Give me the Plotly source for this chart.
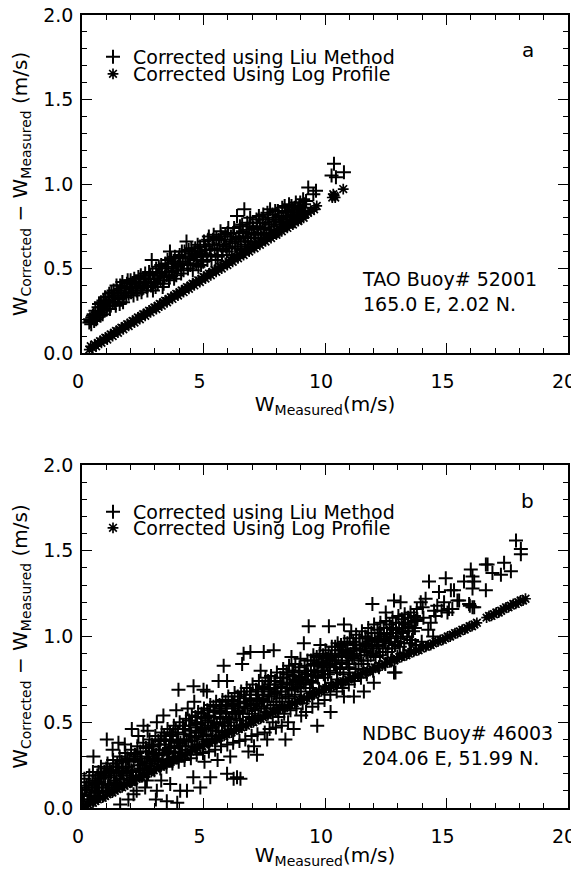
import plotly.graph_objects as go

# ---------------- data ----------------
# Panel a : TAO Buoy 52001  (W_measured, W_corrected - W_measured)
liu_a = [
(0.30,0.18),(0.33,0.20),(0.38,0.17),(0.45,0.22),(0.50,0.19),(0.55,0.25),(0.62,0.21),(0.68,0.27),(0.72,0.24),(0.78,0.30),
(0.85,0.23),(0.90,0.28),(0.95,0.33),(1.02,0.26),(1.08,0.31),(1.12,0.35),(1.18,0.28),(1.25,0.33),(1.30,0.37),(1.36,0.30),
(1.42,0.40),(1.48,0.34),(1.55,0.29),(1.60,0.38),(1.66,0.42),(1.72,0.33),(1.80,0.36),(1.85,0.41),(1.92,0.35),(2.00,0.43),
(2.05,0.38),(2.12,0.34),(2.18,0.42),(2.25,0.37),(2.32,0.45),(2.40,0.40),(2.45,0.36),(2.52,0.44),(2.60,0.47),(2.66,0.39),
(2.72,0.42),(2.80,0.46),(2.87,0.55),(2.92,0.37),(3.00,0.44),(3.05,0.50),(3.12,0.41),(3.20,0.47),(3.26,0.52),(3.32,0.39),
(3.40,0.45),(3.46,0.50),(3.52,0.55),(3.58,0.43),(3.62,0.60),(3.70,0.48),(3.76,0.53),(3.82,0.57),(3.88,0.46),(3.95,0.51),
(4.02,0.58),(4.08,0.47),(4.15,0.54),(4.22,0.60),(4.30,0.66),(4.36,0.50),(4.42,0.56),(4.50,0.62),(4.56,0.49),(4.62,0.58),
(4.70,0.53),(4.76,0.64),(4.82,0.60),(4.90,0.52),(4.96,0.57),(5.02,0.66),(5.10,0.61),(5.16,0.55),(5.22,0.69),(5.30,0.58),
(5.36,0.64),(5.42,0.70),(5.50,0.55),(5.56,0.61),(5.62,0.67),(5.70,0.72),(5.76,0.58),(5.82,0.64),(5.90,0.70),(5.96,0.60),
(6.02,0.74),(6.10,0.66),(6.16,0.58),(6.22,0.71),(6.30,0.63),(6.38,0.81),(6.44,0.68),(6.50,0.75),(6.56,0.61),(6.62,0.72),
(6.68,0.85),(6.74,0.66),(6.80,0.77),(6.86,0.63),(6.92,0.80),(6.98,0.70),(7.05,0.74),(7.12,0.66),(7.18,0.79),(7.25,0.71),
(7.32,0.77),(7.40,0.68),(7.46,0.82),(7.52,0.74),(7.60,0.70),(7.66,0.80),(7.74,0.85),(7.80,0.73),(7.88,0.78),(7.95,0.84),
(8.02,0.72),(8.10,0.81),(8.16,0.76),(8.24,0.86),(8.30,0.79),(8.38,0.83),(8.45,0.76),(8.52,0.88),(8.58,0.81),(8.66,0.85),
(8.72,0.78),(8.80,0.89),(8.86,0.83),(8.94,0.87),(9.02,0.80),(9.10,0.91),(9.18,0.86),(9.31,0.98),(9.52,0.94),(9.63,0.96),
(10.27,1.05),(10.37,1.12),(10.45,1.04),(10.78,1.07),
(0.35,0.19),(0.42,0.21),(0.48,0.23),(0.58,0.20),(0.65,0.24),(0.70,0.29),(0.76,0.22),(0.82,0.27),(0.88,0.31),(0.93,0.25),
(0.99,0.30),(1.05,0.28),(1.10,0.33),(1.15,0.26),(1.21,0.36),(1.27,0.30),(1.33,0.34),(1.39,0.28),(1.45,0.37),(1.51,0.32),
(1.57,0.40),(1.63,0.35),(1.69,0.30),(1.75,0.39),(1.82,0.33),(1.88,0.43),(1.95,0.39),(2.02,0.36),(2.08,0.41),(2.15,0.44),
(2.21,0.39),(2.28,0.35),(2.35,0.42),(2.42,0.46),(2.48,0.38),(2.55,0.41),(2.63,0.44),(2.69,0.37),(2.76,0.48),(2.84,0.40),
(2.90,0.47),(2.96,0.42),(3.03,0.39),(3.09,0.46),(3.16,0.51),(3.23,0.43),(3.29,0.48),(3.36,0.41),(3.43,0.53),(3.49,0.46),
(3.55,0.51),(3.61,0.45),(3.67,0.56),(3.73,0.50),(3.79,0.44),(3.85,0.54),(3.91,0.49),(3.98,0.56),(4.05,0.52),(4.11,0.60),
(4.18,0.49),(4.25,0.57),(4.33,0.53),(4.39,0.61),(4.46,0.52),(4.53,0.59),(4.59,0.55),(4.66,0.62),(4.73,0.57),(4.79,0.51),
(4.86,0.63),(4.93,0.59),(4.99,0.54),(5.06,0.63),(5.13,0.58),(5.19,0.67),(5.26,0.61),(5.33,0.55),(5.39,0.67),(5.46,0.62),
(5.53,0.68),(5.59,0.57),(5.66,0.64),(5.73,0.69),(5.79,0.61),(5.86,0.67),(5.93,0.63),(5.99,0.71),(6.06,0.62),(6.13,0.69),
(6.19,0.65),(6.26,0.74),(6.33,0.67),(6.41,0.62),(6.47,0.71),(6.53,0.66),(6.59,0.76),(6.65,0.69),(6.71,0.64),(6.77,0.73),
(6.83,0.68),(6.89,0.75),(6.95,0.66),(7.02,0.77),(7.08,0.71),(7.15,0.68),(7.21,0.75),(7.28,0.81),(7.35,0.73),(7.43,0.79),
(7.49,0.70),(7.56,0.77),(7.63,0.83),(7.70,0.76),(7.77,0.71),(7.84,0.82),(7.91,0.75),(7.98,0.79),(8.06,0.84),(8.13,0.73),
(8.20,0.80),(8.27,0.77),(8.34,0.87),(8.41,0.80),(8.48,0.84),(8.55,0.78),(8.62,0.87),(8.69,0.82),(8.76,0.86),(8.83,0.80),
(8.90,0.85),(8.98,0.89),(9.06,0.84),(9.14,0.88),(9.22,0.90)]

log_a = [
(0.30,0.02),(0.36,0.04),(0.44,0.03),(0.52,0.05),(0.58,0.04),(0.66,0.06),(0.74,0.07),(0.80,0.06),(0.88,0.08),(0.96,0.09),
(1.04,0.08),(1.10,0.10),(1.18,0.11),(1.26,0.10),(1.32,0.12),(1.40,0.13),(1.48,0.12),(1.55,0.14),(1.62,0.15),(1.70,0.14),
(1.78,0.16),(1.86,0.17),(1.92,0.16),(2.00,0.18),(2.08,0.19),(2.16,0.18),(2.22,0.20),(2.30,0.21),(2.38,0.20),(2.45,0.22),
(2.52,0.23),(2.60,0.22),(2.68,0.24),(2.76,0.25),(2.82,0.24),(2.90,0.26),(2.98,0.27),(3.06,0.26),(3.12,0.28),(3.20,0.29),
(3.28,0.28),(3.35,0.30),(3.42,0.31),(3.50,0.30),(3.58,0.32),(3.66,0.33),(3.72,0.32),(3.80,0.34),(3.88,0.35),(3.95,0.34),
(4.02,0.36),(4.10,0.37),(4.18,0.36),(4.25,0.38),(4.32,0.39),(4.40,0.38),(4.48,0.40),(4.55,0.41),(4.62,0.40),(4.70,0.42),
(4.78,0.43),(4.85,0.42),(4.92,0.44),(5.00,0.45),(5.08,0.44),(5.15,0.46),(5.22,0.47),(5.30,0.46),(5.38,0.48),(5.45,0.49),
(5.52,0.48),(5.60,0.50),(5.68,0.51),(5.75,0.50),(5.82,0.52),(5.90,0.53),(5.98,0.52),(6.05,0.54),(6.12,0.55),(6.20,0.54),
(6.28,0.56),(6.35,0.57),(6.42,0.56),(6.50,0.58),(6.58,0.59),(6.65,0.58),(6.72,0.60),(6.80,0.61),(6.88,0.60),(6.95,0.62),
(7.02,0.63),(7.10,0.62),(7.18,0.64),(7.25,0.65),(7.32,0.64),(7.40,0.66),(7.48,0.67),(7.55,0.66),(7.62,0.68),(7.70,0.69),
(7.78,0.68),(7.85,0.70),(7.92,0.71),(8.00,0.70),(8.08,0.72),(8.15,0.73),(8.22,0.72),(8.30,0.74),(8.38,0.75),(8.45,0.74),
(8.52,0.76),(8.60,0.77),(8.68,0.76),(8.75,0.78),(8.82,0.79),(8.90,0.78),(8.98,0.80),(9.05,0.81),(9.12,0.80),(9.20,0.82),
(9.30,0.83),(9.42,0.84),(9.55,0.85),(9.66,0.87),(10.30,0.92),(10.34,0.94),(10.38,0.93),(10.42,0.92),(10.75,0.97)]

# Panel b : NDBC Buoy 46003
liu_b = [
(0.05,0.02),(0.10,0.17),(0.02,0.08),(0.12,0.12),(0.08,0.05),
(0.22,0.04),(0.30,0.19),(0.18,0.11),(0.28,0.15),(0.33,0.07),
(0.47,0.30),(0.52,0.06),(0.45,0.21),(0.56,0.14),(0.50,0.10),(0.54,0.16),
(0.70,0.07),(0.78,0.24),(0.74,0.17),(0.82,0.12),(0.68,0.21),
(0.98,0.09),(1.02,0.40),(1.05,0.26),(0.95,0.19),(1.08,0.14),(1.00,0.23),
(1.22,0.11),(1.28,0.28),(1.20,0.21),(1.32,0.16),(1.26,0.34),
(1.50,0.38),(1.47,0.13),(1.55,0.30),(1.52,0.22),(1.45,0.26),(1.57,0.02),
(1.72,0.14),(1.78,0.32),(1.80,0.24),(1.70,0.19),(1.76,0.37),
(2.05,0.46),(1.98,0.16),(2.02,0.34),(1.95,0.27),(2.08,0.21),(1.91,0.05),(2.12,0.08),
(2.22,0.17),(2.28,0.36),(2.25,0.10),(2.30,0.25),(2.20,0.30),(2.32,0.42),
(2.53,0.48),(2.48,0.19),(2.52,0.38),(2.45,0.29),(2.56,0.23),(2.60,0.12),
(2.72,0.20),(2.78,0.40),(2.75,0.33),(2.80,0.26),(2.67,0.16),(2.70,0.45),
(3.08,0.50),(2.98,0.22),(3.02,0.42),(3.05,0.31),(2.95,0.36),(3.08,0.10),(3.04,0.05),
(3.22,0.23),(3.28,0.44),(3.30,0.28),(3.20,0.37),(3.35,0.54),(3.26,0.16),
(3.48,0.24),(3.52,0.46),(3.55,0.33),(3.45,0.40),(3.49,0.04),(3.58,0.28),(3.63,0.14),
(3.72,0.26),(3.78,0.48),(3.80,0.36),(3.70,0.42),(3.76,0.30),(3.88,0.57),
(3.97,0.69),(4.04,0.10),(3.98,0.27),(4.02,0.50),(4.05,0.38),(3.95,0.44),(4.08,0.32),(3.92,0.03),
(4.22,0.28),(4.28,0.52),(4.30,0.40),(4.20,0.46),(4.32,0.10),(4.26,0.34),(4.35,0.58),
(4.48,0.29),(4.52,0.54),(4.55,0.36),(4.45,0.48),(4.59,0.71),(4.58,0.18),(4.50,0.42),(4.62,0.62),
(4.72,0.31),(4.78,0.56),(4.80,0.44),(4.70,0.50),(4.76,0.37),(4.87,0.12),
(5.00,0.69),(4.98,0.32),(5.02,0.58),(5.05,0.46),(4.95,0.40),(5.08,0.52),(5.04,0.27),
(5.22,0.33),(5.28,0.60),(5.14,0.68),(5.30,0.47),(5.20,0.53),(5.28,0.18),(5.32,0.40),
(5.48,0.34),(5.52,0.62),(5.55,0.49),(5.45,0.56),(5.50,0.42),(5.62,0.74),(5.58,0.28),
(5.72,0.36),(5.78,0.63),(5.83,0.83),(5.70,0.57),(5.80,0.50),(5.76,0.44),(5.97,0.74),
(5.98,0.37),(6.02,0.65),(6.05,0.52),(5.95,0.59),(6.00,0.45),(5.97,0.20),(6.10,0.30),
(6.22,0.38),(6.28,0.67),(6.24,0.17),(6.30,0.55),(6.20,0.61),(6.26,0.46),(6.38,0.18),
(6.48,0.39),(6.52,0.17),(6.55,0.68),(6.45,0.56),(6.59,0.84),(6.50,0.62),(6.58,0.48),(6.65,0.90),
(6.72,0.40),(6.78,0.70),(6.80,0.58),(6.70,0.64),(6.76,0.49),(6.85,0.33),
(6.93,0.91),(6.98,0.42),(7.02,0.72),(7.05,0.60),(6.95,0.66),(7.00,0.52),(7.08,0.36),
(7.22,0.43),(7.28,0.74),(7.20,0.31),(7.30,0.62),(7.24,0.68),(7.26,0.54),(7.35,0.80),
(7.48,0.91),(7.52,0.44),(7.55,0.76),(7.45,0.64),(7.50,0.70),(7.58,0.56),(7.62,0.40),
(7.72,0.46),(7.78,0.77),(7.80,0.66),(7.70,0.72),(7.76,0.58),(7.85,0.50),
(7.89,0.92),(7.98,0.47),(8.02,0.79),(8.05,0.68),(7.95,0.74),(8.00,0.60),(8.08,0.53),
(8.22,0.48),(8.28,0.81),(8.20,0.70),(8.30,0.76),(8.24,0.62),(8.37,0.40),(8.32,0.55),
(8.48,0.50),(8.52,0.83),(8.55,0.72),(8.45,0.78),(8.50,0.64),(8.58,0.57),(8.62,0.88),
(8.71,0.46),(8.78,0.84),(8.80,0.74),(8.70,0.80),(8.76,0.66),(8.82,0.58),
(8.99,0.87),(9.02,0.54),(9.05,0.76),(8.95,0.82),(9.00,0.68),(9.08,0.61),(9.13,0.96),
(9.22,0.56),(9.28,0.86),(9.33,1.06),(9.30,0.78),(9.20,0.72),(9.26,0.64),
(9.48,0.59),(9.52,0.89),(9.55,0.80),(9.45,0.74),(9.50,0.67),(9.58,0.84),
(9.68,0.48),(9.72,0.61),(9.78,0.90),(9.81,0.95),(9.70,0.76),(9.76,0.69),(9.85,0.83),
(9.98,0.63),(10.02,0.92),(10.05,0.84),(9.95,0.78),(10.00,0.71),(10.08,0.87),
(10.16,1.06),(10.23,0.56),(10.22,0.66),(10.28,0.94),(10.30,0.86),(10.20,0.80),(10.26,0.73),
(10.48,0.68),(10.52,0.96),(10.55,0.88),(10.45,0.82),(10.50,0.75),(10.58,0.92),
(10.78,1.07),(10.72,0.70),(10.78,0.65),(10.80,0.97),(10.70,0.85),(10.76,0.78),(10.85,0.91),
(10.98,0.72),(11.02,0.99),(11.05,0.90),(10.95,0.84),(11.00,0.79),(11.08,1.03),
(11.19,0.65),(11.22,0.74),(11.28,1.01),(11.30,0.93),(11.20,0.87),(11.26,0.81),
(11.48,0.76),(11.52,1.03),(11.55,0.95),(11.45,0.89),(11.60,0.68),(11.58,0.84),
(11.72,0.78),(11.78,1.05),(11.80,0.97),(11.70,0.91),(11.76,0.86),(11.95,1.19),
(12.01,0.73),(11.98,0.80),(12.02,1.07),(12.05,0.99),(11.95,0.93),(12.08,0.88),
(12.22,0.82),(12.28,1.08),(12.30,1.00),(12.20,0.95),(12.26,0.89),
(12.50,1.14),(12.48,0.84),(12.52,1.09),(12.55,1.02),(12.45,0.97),(12.58,0.91),
(12.84,1.21),(12.84,0.79),(12.72,0.86),(12.78,1.11),(12.80,1.04),(12.70,0.99),(12.76,0.93),
(12.90,0.79),(13.11,1.20),(12.98,0.88),(13.02,1.12),(13.05,1.05),(12.95,1.00),(13.08,0.94),
(13.22,0.90),(13.28,1.13),(13.30,1.07),(13.20,1.02),(13.26,0.96),
(13.48,0.92),(13.52,1.14),(13.55,1.08),(13.45,1.03),(13.58,0.98),
(13.72,0.95),(13.78,1.16),(13.80,1.10),(13.70,1.05),(13.94,1.20),
(14.14,1.22),(13.98,0.97),(14.02,1.17),(14.05,1.11),(14.28,1.32),
(14.25,1.04),(14.35,1.08),(14.45,1.00),(14.49,1.15),(14.55,1.12),(14.62,1.18),(14.69,1.26),(14.80,1.15),
(14.90,1.20),(14.97,1.34),(15.04,1.14),(15.10,1.16),(15.18,1.27),(15.24,1.16),(15.31,1.27),(15.45,1.21),
(15.52,1.21),(15.72,1.32),(15.93,1.19),(15.96,1.18),(16.00,1.39),(16.07,1.35),(16.07,1.28),(16.07,1.17),
(16.14,1.32),(16.14,1.17),(16.62,1.27),(16.62,1.42),(16.69,1.42),(16.89,1.37),(17.24,1.36),(17.37,1.43),
(17.65,1.38),(17.86,1.56),(18.06,1.51),(18.06,1.48),
(0.40,0.09),(0.43,0.15),(0.58,0.12),(0.63,0.19),(0.86,0.10),(0.88,0.18),(1.12,0.13),(1.14,0.22),(1.36,0.15),(1.40,0.24),
(1.60,0.17),(1.63,0.27),(1.84,0.20),(1.87,0.29),(2.10,0.18),(2.13,0.28),(2.36,0.22),(2.40,0.33),(2.58,0.26),(2.63,0.35),
(2.84,0.24),(2.88,0.37),(3.10,0.27),(3.14,0.39),(3.33,0.31),(3.38,0.42),(3.58,0.35),(3.62,0.44),(3.84,0.33),(3.86,0.46),
(4.12,0.36),(4.15,0.48),(4.38,0.39),(4.41,0.51),(4.64,0.41),(4.67,0.53),(4.88,0.45),(4.92,0.55),(5.12,0.43),(5.16,0.57),
(5.38,0.47),(5.41,0.59),(5.62,0.45),(5.66,0.60),(5.88,0.48),(5.91,0.62),(6.13,0.50),(6.16,0.63),(6.36,0.52),(6.41,0.65),
(6.62,0.55),(6.67,0.66),(6.88,0.53),(6.91,0.68),(7.12,0.57),(7.16,0.69),(7.38,0.59),(7.42,0.71),(7.63,0.62),(7.66,0.74),
(7.88,0.60),(7.92,0.72),(8.13,0.64),(8.16,0.76),(8.38,0.66),(8.42,0.79),(8.63,0.69),(8.66,0.80),(8.88,0.71),(8.92,0.79),
(9.12,0.73),(9.16,0.83),(9.38,0.70),(9.42,0.86),(9.62,0.77),(9.66,0.88),(9.88,0.80),(9.92,0.89),(10.12,0.78),(10.15,0.90),
(10.38,0.84),(10.42,0.94),(10.62,0.81),(10.66,0.95),(10.88,0.86),(10.92,0.96),(11.12,0.88),(11.16,0.97),(11.38,0.84),(11.42,0.99),
(11.62,0.92),(11.66,1.00),(11.88,0.89),(11.91,1.02),(12.12,0.94),(12.16,1.04),(12.38,0.91),(12.42,1.05),(12.62,0.96),(12.66,1.07),
(12.88,0.95),(12.92,1.08),(13.12,0.99),(13.16,1.10),(13.38,1.00),(13.42,1.11),(13.62,1.03),(13.66,1.12),
(0.30,0.05),(0.70,0.15),(0.92,0.21),(1.18,0.18),(1.42,0.20),(1.68,0.23),(1.90,0.24),(2.18,0.31),(2.42,0.27),(2.68,0.30),
(2.92,0.32),(3.18,0.34),(3.42,0.37),(3.68,0.39),(3.90,0.40),(4.18,0.43),(4.42,0.45),(4.68,0.47),(4.90,0.50),(5.18,0.51),
(5.42,0.53),(5.68,0.55),(5.92,0.56),(6.18,0.58),(6.42,0.59),(6.68,0.61),(6.92,0.63),(7.18,0.64),(7.42,0.66),(7.68,0.68),
(7.92,0.67),(8.18,0.71),(8.42,0.73),(8.68,0.75),(8.92,0.76),(9.18,0.78),(9.42,0.80),(9.68,0.83),(9.92,0.85),(10.18,0.86),
(10.42,0.89),(10.68,0.90),(10.92,0.92),(11.18,0.93),(11.42,0.95),(11.68,0.96),(11.92,0.98),(12.18,0.99),(12.42,1.01),(12.68,1.02),
(12.92,1.04),(13.18,1.05),(13.42,1.06),
(0.55,0.09),(0.80,0.20),(1.05,0.12),(1.30,0.24),(1.55,0.17),(1.80,0.28),(2.03,0.22),(2.28,0.32),(2.50,0.25),(2.77,0.36),
(3.00,0.29),(3.24,0.40),(3.50,0.32),(3.74,0.43),(4.00,0.36),(4.24,0.46),(4.50,0.39),(4.74,0.49),(5.00,0.42),(5.24,0.54),
(5.50,0.45),(5.74,0.58),(6.00,0.48),(6.24,0.60),(6.50,0.51),(6.74,0.62),(7.00,0.55),(7.24,0.66),(7.50,0.58),(7.74,0.69),
(8.00,0.62),(8.24,0.73),(8.50,0.65),(8.74,0.77),(9.00,0.70),(9.24,0.80),(9.50,0.73),(9.74,0.85),(10.00,0.76),(10.24,0.88),
(10.50,0.79),(10.74,0.92),(11.00,0.82),(11.24,0.95),(11.50,0.86),(11.74,0.99),(12.00,0.90),(12.24,1.02),(12.50,0.93),(12.74,1.05),
(13.00,0.97),(13.24,1.08),(13.50,0.96),(13.74,1.09),
(0.20,0.13),(0.65,0.10),(1.10,0.19),(1.40,0.14),(1.65,0.21),(2.00,0.19),(2.40,0.23),(2.65,0.27),(2.90,0.28),(3.15,0.31),
(3.40,0.34),(3.65,0.35),(3.95,0.38),(4.20,0.40),(4.45,0.42),(4.70,0.44),(4.95,0.47),(5.20,0.48),(5.45,0.50),(5.70,0.52),
(5.95,0.53),(6.20,0.55),(6.45,0.57),(6.70,0.59),(6.95,0.60),(7.20,0.61),(7.45,0.63),(7.70,0.65),(7.95,0.70),(8.20,0.68),
(8.45,0.70),(8.70,0.72),(8.95,0.73),(9.20,0.75),(9.45,0.77),(9.70,0.79),(9.95,0.82),(10.20,0.83),(10.45,0.86),(10.70,0.88),
(10.95,0.89),(11.20,0.90),(11.45,0.92),(11.70,0.94),(11.95,0.95),(12.20,0.97),(12.45,0.98),(12.70,1.00),(12.95,1.02),(13.20,1.03)]

log_b = [
(0.05,0.00),(0.15,0.01),(0.25,0.02),(0.35,0.03),(0.45,0.03),(0.55,0.04),(0.65,0.05),(0.75,0.06),(0.85,0.06),(0.95,0.07),
(1.05,0.08),(1.15,0.09),(1.25,0.09),(1.35,0.10),(1.45,0.11),(1.55,0.12),(1.65,0.12),(1.75,0.13),(1.85,0.14),(1.95,0.15),
(2.05,0.15),(2.15,0.16),(2.25,0.17),(2.35,0.18),(2.45,0.18),(2.55,0.19),(2.65,0.20),(2.75,0.21),(2.85,0.21),(2.95,0.22),
(3.05,0.23),(3.15,0.24),(3.25,0.24),(3.35,0.25),(3.45,0.26),(3.55,0.27),(3.65,0.27),(3.75,0.28),(3.85,0.29),(3.95,0.29),
(4.05,0.30),(4.15,0.31),(4.25,0.31),(4.35,0.32),(4.45,0.33),(4.55,0.34),(4.65,0.34),(4.75,0.35),(4.85,0.36),(4.95,0.36),
(5.05,0.37),(5.15,0.38),(5.25,0.38),(5.35,0.39),(5.45,0.40),(5.55,0.40),(5.65,0.41),(5.75,0.42),(5.85,0.42),(5.95,0.43),
(6.05,0.44),(6.15,0.44),(6.25,0.45),(6.35,0.46),(6.45,0.46),(6.55,0.47),(6.65,0.48),(6.75,0.48),(6.85,0.49),(6.95,0.50),
(7.05,0.50),(7.15,0.51),(7.25,0.52),(7.35,0.52),(7.45,0.53),(7.55,0.54),(7.65,0.54),(7.75,0.55),(7.85,0.56),(7.95,0.56),
(8.05,0.57),(8.15,0.58),(8.25,0.58),(8.35,0.59),(8.45,0.59),(8.55,0.60),(8.65,0.61),(8.75,0.61),(8.85,0.62),(8.95,0.63),
(9.05,0.63),(9.15,0.64),(9.25,0.64),(9.35,0.65),(9.45,0.66),(9.55,0.66),(9.65,0.67),(9.75,0.68),(9.85,0.68),(9.95,0.69),
(10.05,0.70),(10.15,0.70),(10.25,0.71),(10.35,0.71),(10.45,0.72),(10.55,0.73),(10.65,0.73),(10.75,0.74),(10.85,0.74),(10.95,0.75),
(11.05,0.76),(11.15,0.76),(11.25,0.77),(11.35,0.77),(11.45,0.78),(11.55,0.79),(11.65,0.79),(11.75,0.80),(11.85,0.80),(11.95,0.81),
(12.05,0.82),(12.15,0.82),(12.25,0.83),(12.35,0.83),(12.45,0.84),(12.55,0.85),(12.65,0.85),(12.75,0.86),(12.85,0.86),(12.95,0.87),
(13.05,0.88),(13.15,0.88),(13.25,0.89),(13.35,0.89),(13.45,0.90),(13.55,0.91),(13.65,0.91),(13.75,0.92),(13.85,0.92),(13.95,0.93),
(14.05,0.94),(14.15,0.94),(14.25,0.95),(14.35,0.95),(14.45,0.96),(14.55,0.97),(14.65,0.97),(14.75,0.98),(14.85,0.98),(14.95,0.99),
(15.05,1.00),(15.15,1.00),(15.25,1.01),(15.35,1.02),(15.45,1.02),(15.55,1.03),(15.65,1.04),(15.75,1.04),(15.85,1.05),(15.95,1.06),
(16.05,1.06),(16.15,1.07),(16.25,1.08),(16.65,1.11),(16.75,1.12),(16.85,1.12),(16.95,1.13),(17.05,1.14),(17.15,1.14),(17.25,1.15),
(17.35,1.16),(17.45,1.17),(17.55,1.17),(17.65,1.18),(17.75,1.19),(17.85,1.19),(17.95,1.20),(18.05,1.21),(18.15,1.21),(18.25,1.22)]

series_names = ["Corrected using Liu Method", "Corrected Using Log Profile"]
x_ticks = [0, 5, 10, 15, 20]
y_ticks = [0.0, 0.5, 1.0, 1.5, 2.0]
panel_labels = ["a", "b"]
station_text = ["TAO Buoy# 52001<br>165.0 E, 2.02 N.", "NDBC Buoy# 46003<br>204.06 E, 51.99 N."]

FONT = "DejaVu Sans"
OFF = 8                      # default page margin around the figure div
W, H = 579 - OFF, 869 - OFF
ML, MR, MT, MB = 82 - OFF, 11, 15 - OFF, 61

def unzip(pairs):
    return [p[0] for p in pairs], [p[1] for p in pairs]

fig = go.Figure()

liu_marker = dict(symbol="cross-thin-open", size=10, color="black", line=dict(color="black", width=2.0))
log_marker = dict(symbol="asterisk-open", size=9, color="black", line=dict(color="black", width=1.7))

panels = [(liu_a, log_a, "x", "y", "legend", "legend2"),
          (liu_b, log_b, "x2", "y2", "legend3", "legend4")]
for liu, log, xa, ya, lg1, lg2 in panels:
    lx, ly = unzip(liu)
    gx, gy = unzip(log)
    fig.add_trace(go.Scatter(x=gx, y=gy, mode="markers", marker=log_marker, name=series_names[1],
                             xaxis=xa, yaxis=ya, legend=lg2))
    fig.add_trace(go.Scatter(x=lx, y=ly, mode="markers", marker=liu_marker, name=series_names[0],
                             xaxis=xa, yaxis=ya, legend=lg1))

plot_h = H - MT - MB
def py(p):  # page pixel row -> paper y
    return (H - MB - (p - OFF)) / plot_h
def px(p):  # page pixel column -> paper x
    return (p - OFF - ML) / (W - ML - MR)

tickfont = dict(family=FONT, size=19, color="black")
titlefont = dict(family=FONT, size=20, color="black")

def xaxis(anchor):
    return dict(range=[0, 20], tickvals=x_ticks, ticktext=[str(v) for v in x_ticks],
                ticks="inside", ticklen=10, tickwidth=1.2, tickcolor="black",
                minor=dict(dtick=1, ticks="inside", ticklen=5, tickwidth=1, tickcolor="black"),
                showline=True, linecolor="black", linewidth=1.5, mirror="ticks",
                showgrid=False, zeroline=False, tickfont=tickfont, ticklabelstandoff=10,
                ticklabelshift=-4, ticklabeloverflow="allow",
                title=dict(text="W<sub>Measured</sub>(m/s)", font=titlefont, standoff=4),
                anchor=anchor)

def yaxis(anchor, domain):
    return dict(range=[0, 2], tickvals=y_ticks, ticktext=["%.1f" % v for v in y_ticks],
                ticks="inside", ticklen=10, tickwidth=1.2, tickcolor="black",
                minor=dict(dtick=0.1, ticks="inside", ticklen=5, tickwidth=1, tickcolor="black"),
                showline=True, linecolor="black", linewidth=1.5, mirror="ticks",
                showgrid=False, zeroline=False, tickfont=tickfont, ticklabelstandoff=3,
                ticklabeloverflow="allow",
                title=dict(text="W<sub>Corrected</sub> \u2212 W<sub>Measured</sub> (m/s)", font=titlefont, standoff=10),
                domain=domain, anchor=anchor)

leg_common = dict(font=dict(family=FONT, size=19, color="black"), bgcolor="rgba(0,0,0,0)",
                  borderwidth=0, xanchor="left", yanchor="middle", itemclick=False)
lx0 = px(93)

annotations = []
for i, (xr, yr) in enumerate([("x", "y"), ("x2", "y2")]):
    annotations.append(dict(x=18.35, y=1.79, xref=xr, yref=yr, text=panel_labels[i], showarrow=False,
                            font=dict(family=FONT, size=20, color="black")))
    annotations.append(dict(x=11.45, y=0.364, xref=xr, yref=yr, text=station_text[i], showarrow=False,
                            xanchor="left", yanchor="middle", align="left",
                            font=dict(family=FONT, size=19, color="black")))

fig.update_layout(
    width=W, height=H, margin=dict(l=ML, r=MR, t=MT, b=MB, autoexpand=False),
    paper_bgcolor="white", plot_bgcolor="white",
    xaxis=xaxis("y"), yaxis=yaxis("x", [py(353), 1.0]),
    xaxis2=xaxis("y2"), yaxis2=yaxis("x2", [0.0, py(465)]),
    legend=dict(x=lx0, y=py(57), **leg_common),
    legend2=dict(x=lx0, y=py(74), **leg_common),
    legend3=dict(x=lx0, y=py(512), **leg_common),
    legend4=dict(x=lx0, y=py(528), **leg_common),
    annotations=annotations,
    showlegend=True,
)

fig.write_html("out.html")
